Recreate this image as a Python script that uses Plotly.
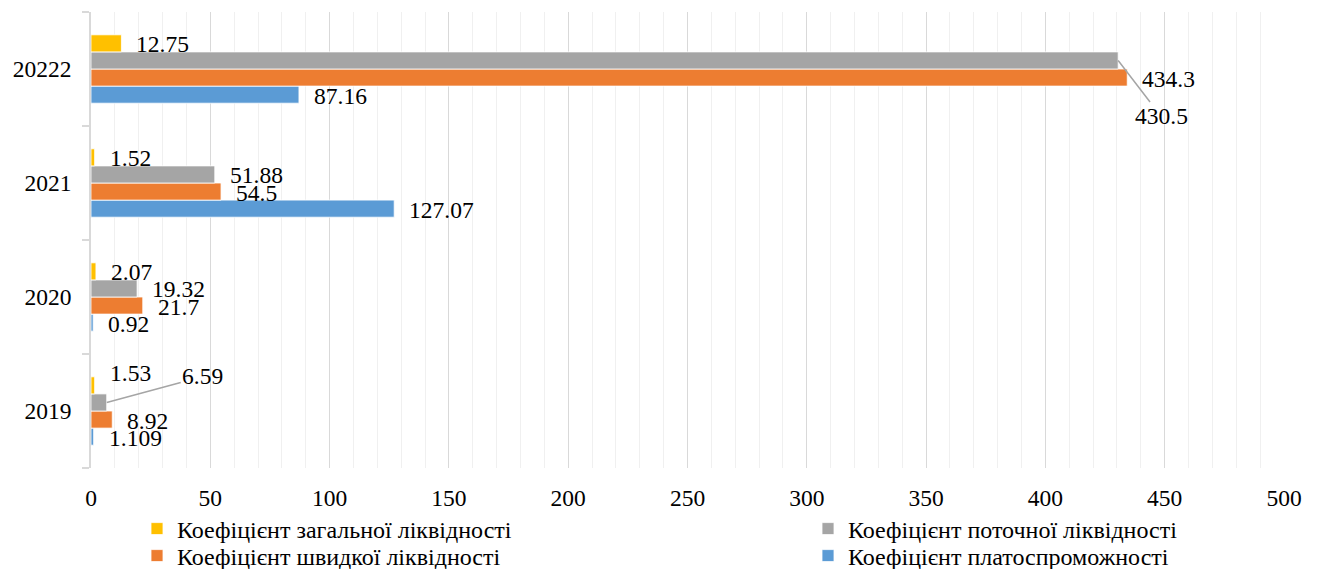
import plotly.graph_objects as go

# Liquidity ratios by year
years = ["2019", "2020", "2021", "20222"]
general_liq = [1.53, 2.07, 1.52, 12.75]      # Коефіцієнт загальної ліквідності
current_liq = [6.59, 19.32, 51.88, 430.5]    # Коефіцієнт поточної ліквідності
quick_liq = [8.92, 21.7, 54.5, 434.3]        # Коефіцієнт швидкої ліквідності
solvency = [1.109, 0.92, 127.07, 87.16]      # Коефіцієнт платоспроможності

FONT = "Liberation Serif"
LABEL_SIZE = 23.5
LEGEND_SIZE = 24

# bottom-to-top order inside each group; each series gets its own legend box
series = [
    ("Коефіцієнт платоспроможності", solvency, "#5B9BD5", "legend4"),
    ("Коефіцієнт швидкої ліквідності", quick_liq, "#ED7D31", "legend3"),
    ("Коефіцієнт поточної ліквідності", current_liq, "#A5A5A5", "legend2"),
    ("Коефіцієнт загальної ліквідності", general_liq, "#FFC000", "legend"),
]

BARGAP = 0.4
n = len(series)
bar_w = (1 - BARGAP) / n

fig = go.Figure()
for name, vals, color, leg in series:
    fig.add_trace(go.Bar(
        y=years, x=vals, name=name, orientation="h",
        marker=dict(color=color, line=dict(color="white", width=0.8)),
        legend=leg,
    ))

# data labels just past the end of each bar
annotations = []
special = {
    ("Коефіцієнт поточної ліквідності", 3): dict(showarrow=True, ax=43, ay=56),
    ("Коефіцієнт поточної ліквідності", 0): dict(showarrow=True, ax=96, ay=-26),
    ("Коефіцієнт загальної ліквідності", 0): dict(yshift=12),
}
for k, (name, vals, color, leg) in enumerate(series):
    for i, v in enumerate(vals):
        yc = i - (1 - BARGAP) / 2 + bar_w * (k + 0.5)
        ann = dict(x=v, y=yc, xref="x", yref="y", text=str(v),
                   font=dict(family=FONT, size=LABEL_SIZE, color="black"),
                   showarrow=False, xanchor="left", xshift=13, yshift=-1)
        extra = special.get((name, i))
        if extra and extra.get("showarrow"):
            ann.update(showarrow=True, arrowhead=0, arrowwidth=1.5,
                       arrowcolor="#A5A5A5", ax=extra["ax"], ay=extra["ay"],
                       xanchor="center", xshift=0, yshift=0, standoff=0)
        elif extra:
            ann.update(extra)
        annotations.append(ann)

legend_common = dict(
    xref="container", yref="container", xanchor="left", yanchor="middle",
    orientation="v", traceorder="normal", itemwidth=30,
    font=dict(family=FONT, size=LEGEND_SIZE, color="black"),
    bgcolor="rgba(0,0,0,0)", itemclick=False, tracegroupgap=0,
)
COL1, COL2 = 137, 808
ROW1, ROW2 = 529, 556

fig.update_layout(
    width=1322, height=569,
    margin=dict(l=91, r=38, t=12, b=101, autoexpand=False),
    plot_bgcolor="white", paper_bgcolor="white",
    barmode="group", bargap=BARGAP, bargroupgap=0,
    font=dict(family=FONT, size=LABEL_SIZE, color="black"),
    annotations=annotations,
    xaxis=dict(
        range=[0, 500], dtick=50, tick0=0,
        showgrid=True, gridcolor="#D9D9D9", gridwidth=1,
        minor=dict(dtick=10, showgrid=True, gridcolor="#F0F0F0", gridwidth=1),
        zeroline=False, showline=False, ticks="",
        tickfont=dict(family=FONT, size=LABEL_SIZE, color="black"),
        ticklabelstandoff=13,
    ),
    yaxis=dict(
        type="category", categoryorder="array", categoryarray=years,
        showgrid=False, zeroline=False,
        showline=True, linecolor="#D9D9D9", linewidth=1.5,
        ticks="outside", tickson="boundaries", ticklen=7, tickcolor="#D9D9D9",
        tickwidth=1.5,
        tickfont=dict(family=FONT, size=LABEL_SIZE, color="black"),
        ticklabelstandoff=13,
    ),
    legend=dict(legend_common, x=COL1 / 1322, y=1 - ROW1 / 569),
    legend2=dict(legend_common, x=COL2 / 1322, y=1 - ROW1 / 569),
    legend3=dict(legend_common, x=COL1 / 1322, y=1 - ROW2 / 569),
    legend4=dict(legend_common, x=COL2 / 1322, y=1 - ROW2 / 569),
    showlegend=True,
)

fig.write_html("out.html")
